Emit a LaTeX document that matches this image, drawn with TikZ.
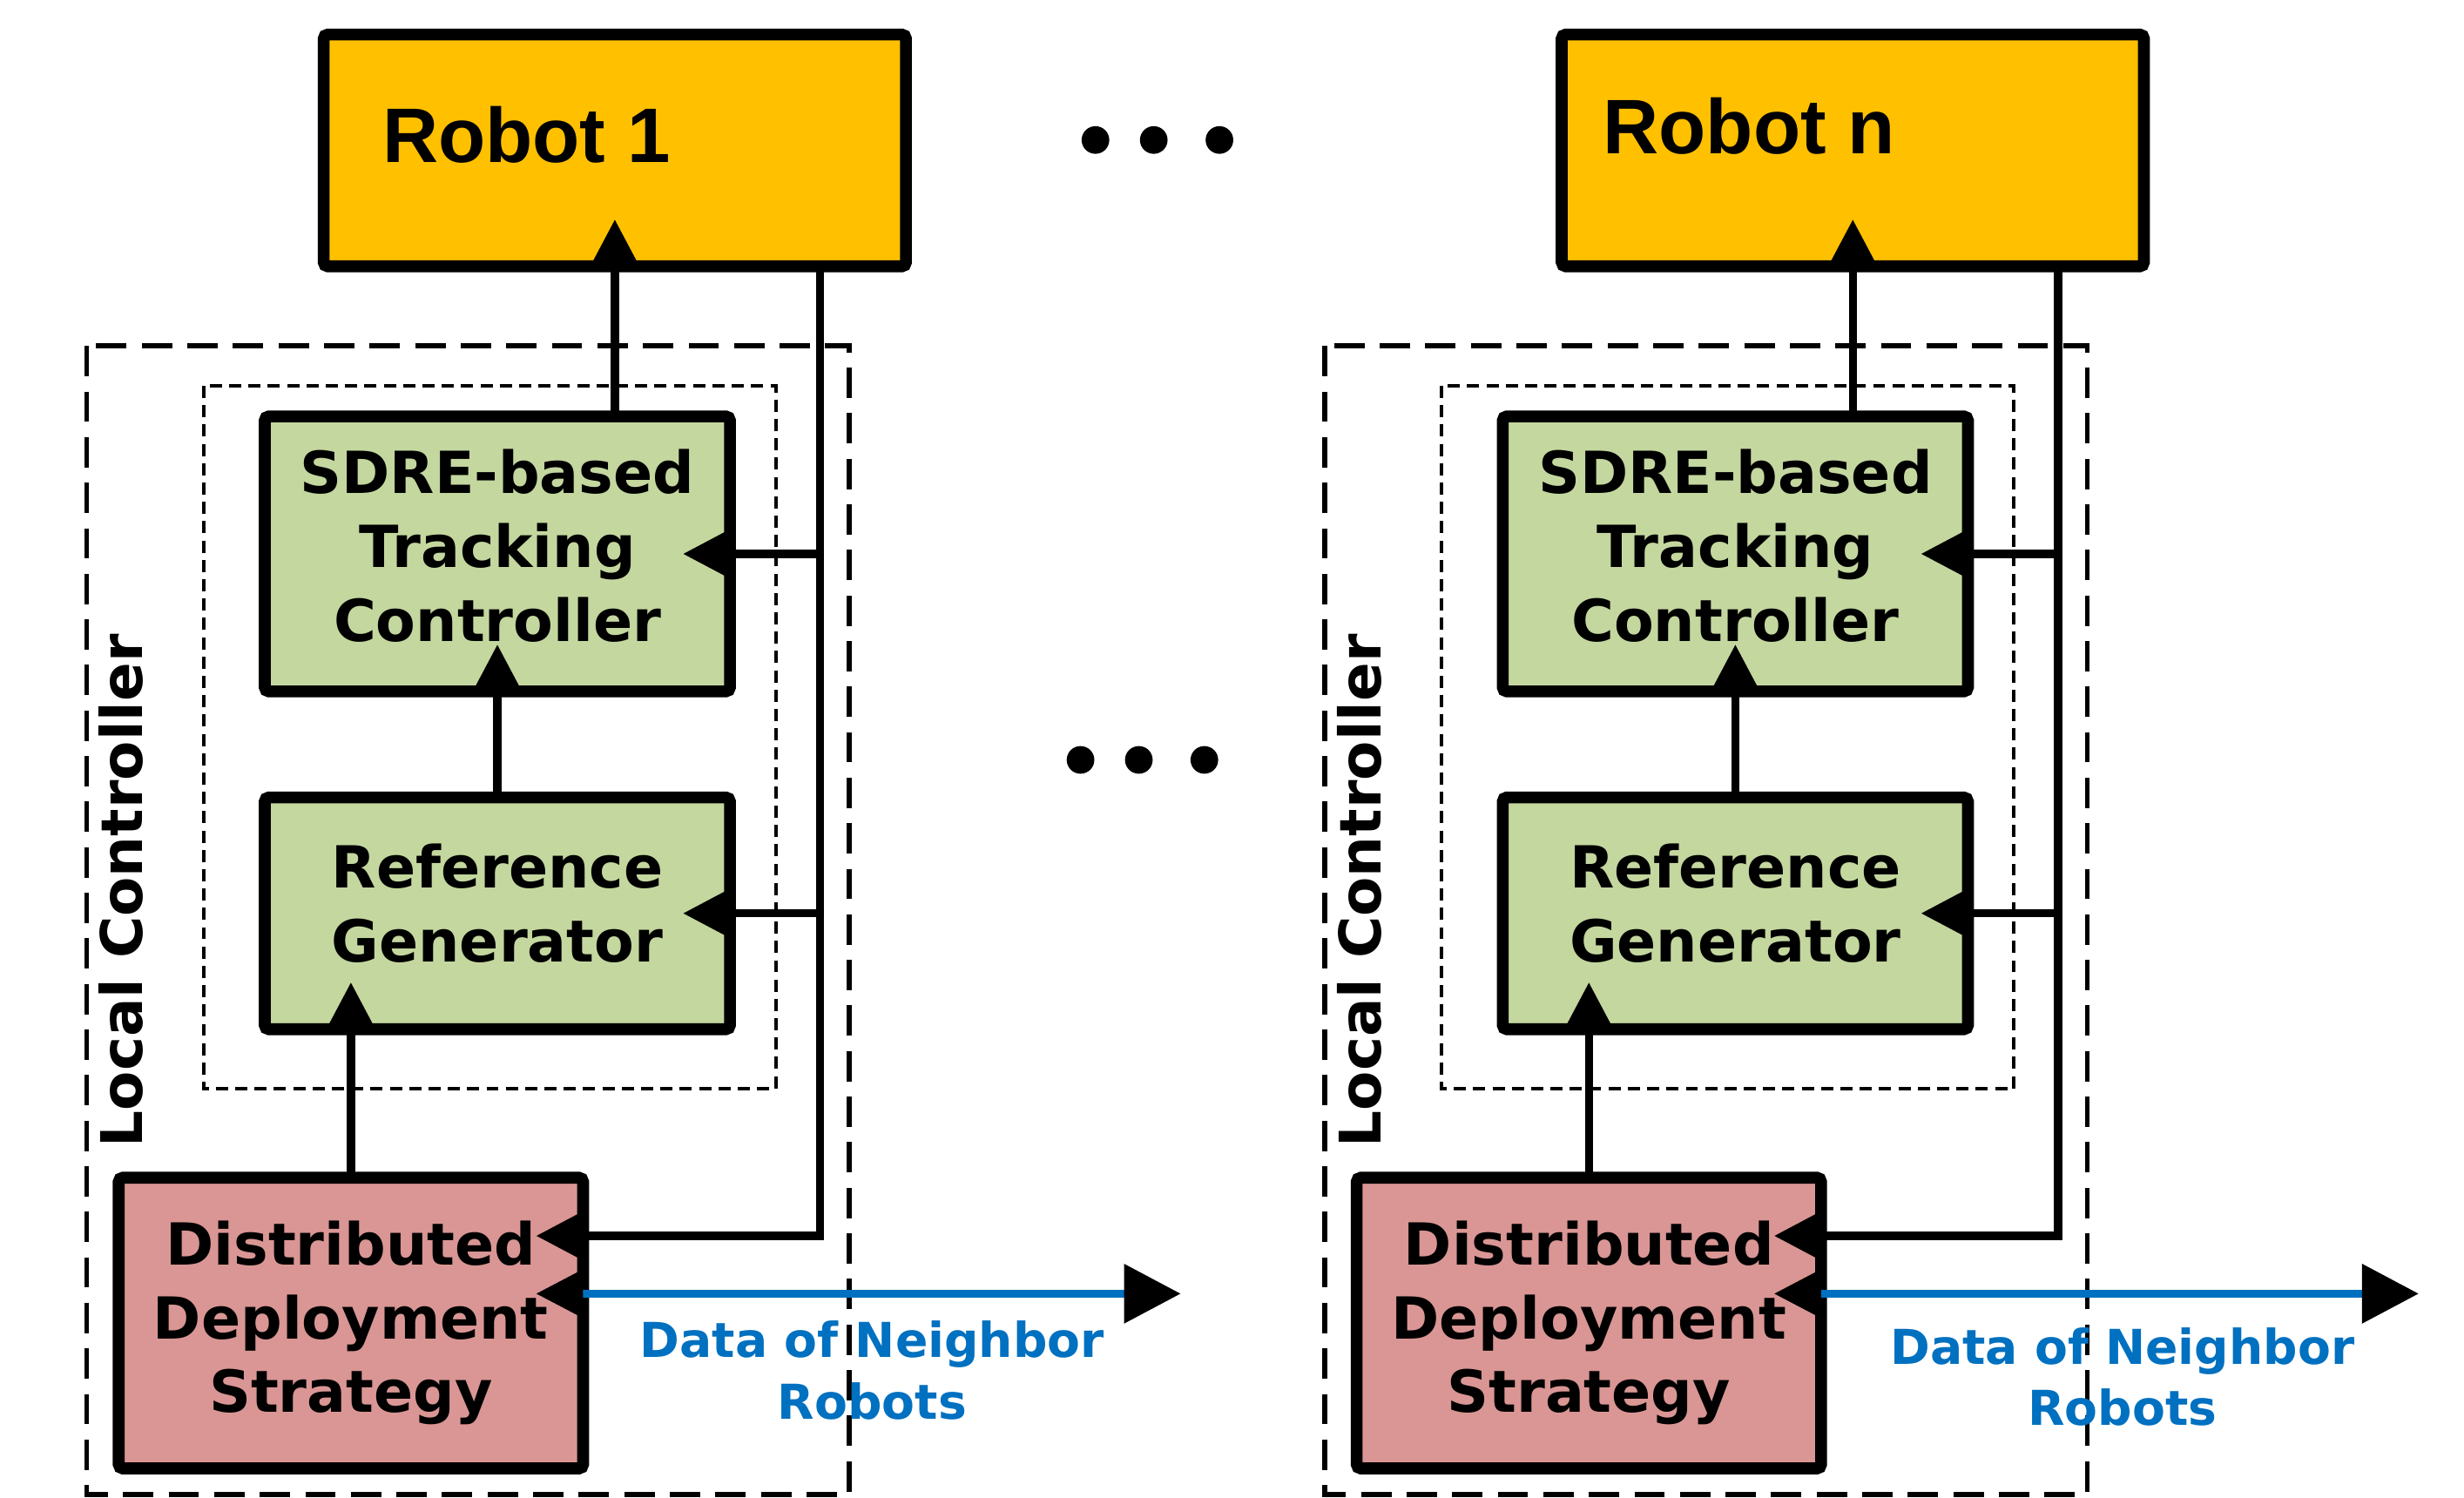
\documentclass[tikz,border=0pt]{standalone}
\usepackage{fontspec}
\setmainfont{DejaVu Sans}
\newfontfamily\robotfont{Liberation Sans}
\usetikzlibrary{arrows.meta,positioning}
\definecolor{robotyellow}{HTML}{FFC000}
\definecolor{ctrlgreen}{HTML}{C4D79F}
\definecolor{stratpink}{HTML}{D99694}
\definecolor{nbrblue}{HTML}{0070C0}
\tikzset{>={Triangle[length=17pt,width=17pt]}, % big solid heads everywhere
robotbox/.style={draw, line width=4.3pt, fill=robotyellow, rounded corners=1.5pt, minimum width=74.1mm, minimum height=29.5mm, outer sep=0pt},
robottext/.style={inner sep=0pt, font=\robotfont\bfseries\fontsize{28pt}{34pt}\selectfont},
boxfont/.style={align=center, inner sep=0pt, font=\bfseries\fontsize{21pt}{26.7pt}\selectfont},
ctrlbox/.style={draw, line width=4.3pt, fill=ctrlgreen, rounded corners=1.5pt, minimum width=59.2mm, outer sep=0pt, inner sep=0pt, boxfont},
stratbox/.style={ctrlbox, fill=stratpink, minimum width=59.1mm, minimum height=37mm}, % the pink one
conn/.style={line width=3pt, shorten >=-17pt}, % heads sit inside the box
nbrline/.style={draw=nbrblue, line width=2.6pt, {Triangle[length=17pt,width=17pt,color=black,fill=black]}-{Triangle[length=20.5pt,width=21pt,color=black,fill=black]}, shorten <=-17pt},
nbrtext/.style={text=nbrblue, align=center, inner sep=0pt, font=\bfseries\fontsize{17.4pt}{22.2pt}\selectfont},
ctrlframe/.style={line width=1.8pt, dash pattern=on 11pt off 5.5pt},
loopframe/.style={line width=1.3pt, dash pattern=on 4.4pt off 2.6pt},
vlabel/.style={rotate=90, inner sep=0pt, font=\bfseries\fontsize{20.8pt}{25pt}\selectfont},
}
\begin{document}
\begin{tikzpicture}[x=0.2mm, y=-0.2mm]
\useasboundingbox (0,0) rectangle (1568,953);

\foreach \i/\dx/\lx/\ly/\nx/\ny in {1/0/243/103.4/555/840.4, n/787.8/232/98/562.8/844.6}{
\begin{scope}[shift={(\dx,0)}]
% local controller frames
\draw[ctrlframe] (55.2,220.2) rectangle (540.4,951);
\draw[loopframe] (129.5,245.6) rectangle (493.8,692.9);
\node[vlabel] (lc\i) at (77.2,566.9) {Local Controller};

\node[robotbox] (robot\i) at (391.25,95.75) {};
\node[robottext, anchor=base west] (rname\i) at (\lx,\ly) {Robot \i};
\node[ctrlbox, minimum height=35mm, label={[boxfont, yshift=2.9pt]center:SDRE-based\\Tracking\\Controller}] (sdre\i) at (316.5,352.5) {};
\node[ctrlbox, minimum height=29.5mm, below=13.5mm of sdre\i, label={[boxfont, yshift=3.7pt]center:Reference\\Generator}] (ref\i) {};
\node[stratbox] (dist\i) at (223.3,842) {Distributed\\Deployment\\Strategy};

\coordinate (fb\i) at (521.8,786.5);
\coordinate (nbr\i) at (751.3,823.3);

\draw[conn,->] (sdre\i.north -| robot\i.south) -- (robot\i.south);
\draw[conn,->] (ref\i.north) -- (sdre\i.south);
\draw[conn,->] (dist\i.north) -- (dist\i.north |- ref\i.south);
\draw[conn,->] (robot\i.south -| fb\i) -- (fb\i) -- (fb\i -| dist\i.east);
\draw[conn,->] (fb\i |- sdre\i.east) -- (sdre\i.east);
\draw[conn,->] (fb\i |- ref\i.east) -- (ref\i.east);
\draw[nbrline] (nbr\i -| dist\i.east) -- (nbr\i);
\node[nbrtext, anchor=north] (nlabel\i) at (\nx,\ny) {Data of Neighbor\\Robots};
\end{scope}
}

% dots between the robots
\foreach \x in {697.1,734.2,776} \fill (\x,89.1) circle[radius=1.76mm];
\foreach \x in {687.6,724.7,766.4} \fill (\x,483.6) circle[radius=1.76mm];
\end{tikzpicture}
\end{document}
